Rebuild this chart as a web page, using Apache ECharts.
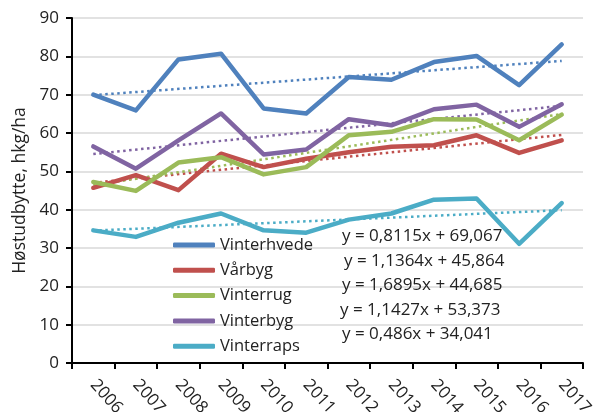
<!DOCTYPE html>
<html><head><meta charset="utf-8">
<script src="https://cdn.jsdelivr.net/npm/echarts@6/dist/echarts.min.js"></script>
<style>html,body{margin:0;padding:0;background:#fff}#c{width:595px;height:412px}</style>
</head><body><div id="c"></div>
<script>
const years = ['2006','2007','2008','2009','2010','2011','2012','2013','2014','2015','2016','2017'];
const names = ['Vinterhvede','Vårbyg','Vinterrug','Vinterbyg','Vinterraps'];
const vinterhvede = [70.0, 65.9, 79.2, 80.7, 66.4, 65.1, 74.6, 73.9, 78.5, 80.1, 72.5, 83.1];
const vaarbyg     = [45.7, 49.0, 45.1, 54.6, 51.1, 53.3, 55.0, 56.4, 56.8, 59.4, 54.8, 58.1];
const vinterrug   = [47.2, 44.9, 52.3, 53.7, 49.2, 51.1, 59.4, 60.3, 63.6, 63.5, 58.1, 64.8];
const vinterbyg   = [56.5, 50.7, 58.1, 65.1, 54.4, 55.7, 63.6, 62.0, 66.2, 67.4, 61.6, 67.5];
const vinterraps  = [34.6, 32.9, 36.6, 39.0, 34.6, 34.0, 37.4, 39.0, 42.6, 42.9, 31.1, 41.7];
// trendline equations shown on the chart (x = 1 for 2006 ... 12 for 2017)
const slopes     = [0.8115, 1.1364, 1.6895, 1.1427, 0.486];
const intercepts = [69.067, 45.864, 44.685, 53.373, 34.041];
const equations  = ['y = 0,8115x + 69,067','y = 1,1364x + 45,864','y = 1,6895x + 44,685','y = 1,1427x + 53,373','y = 0,486x + 34,041'];
const yTicks = [0,10,20,30,40,50,60,70,80,90];

const colors = ['#4F81BD','#C0504D','#9BBB59','#8064A2','#4BACC6'];
const allData = [vinterhvede, vaarbyg, vinterrug, vinterbyg, vinterraps];
const FONT = 'Open Sans';

const series = [];
for (let i = 0; i < 5; i++) {
  const n = years.length;
  series.push({
    name: names[i] + ' trend', type: 'line', silent: true, symbol: 'none', z: 1,
    data: [[years[0], slopes[i]*1 + intercepts[i]], [years[n-1], slopes[i]*n + intercepts[i]]],
    lineStyle: { color: colors[i], width: 2.5, type: [2.5, 3.5] }
  });
}
const order = [4,1,2,3,0];
order.forEach(i => {
  series.push({
    name: names[i], type: 'line', symbol: 'none', z: 3, data: allData[i],
    itemStyle: { color: colors[i] },
    lineStyle: { color: colors[i], width: 4.5, join: 'round', cap: 'round' }
  });
});

const eqX = [342, 344, 342, 340, 342];
const eqY = [240, 265, 289, 314, 338];
const chart = echarts.init(document.getElementById('c'), null, { renderer: 'canvas' });
const graphics = equations.map((t, i) => ({
  type: 'text', left: eqX[i], top: eqY[i] - 12, z: 10,
  style: { text: t, font: '17px "' + FONT + '"', fill: '#222' }
}));
chart.setOption({
  animation: false,
  color: colors,
  grid: { left: 72, right: 12, top: 18, bottom: 49, containLabel: false, outerBoundsMode: 'none' },
  xAxis: {
    type: 'category', data: years, boundaryGap: true,
    axisLine: { lineStyle: { color: '#000', width: 2 } },
    axisTick: { show: true, length: 6, lineStyle: { color: '#000', width: 2 } },
    axisLabel: { rotate: -48, margin: 19, color: '#222', fontSize: 17, fontFamily: FONT }
  },
  yAxis: {
    type: 'value', min: yTicks[0], max: yTicks[yTicks.length-1], interval: 10,
    name: 'Høstudbytte, hkg/ha', nameLocation: 'middle', nameGap: 38,
    nameTextStyle: { fontSize: 17.5, color: '#222', fontFamily: FONT },
    axisLine: { show: true, lineStyle: { color: '#000', width: 2 } },
    axisTick: { show: true, length: 6, lineStyle: { color: '#000', width: 2 } },
    axisLabel: { margin: 13, color: '#222', fontSize: 17, fontFamily: FONT },
    splitLine: { lineStyle: { color: '#d9d9d9', width: 1.5 } }
  },
  legend: {
    data: names, orient: 'vertical', left: 168, top: 231, itemWidth: 42, itemHeight: 5,
    itemGap: 7.3, icon: 'roundRect',
    textStyle: { fontSize: 16.5, lineHeight: 18, color: '#222', fontFamily: FONT }
  },
  graphic: graphics,
  series: series
});
</script></body></html>
